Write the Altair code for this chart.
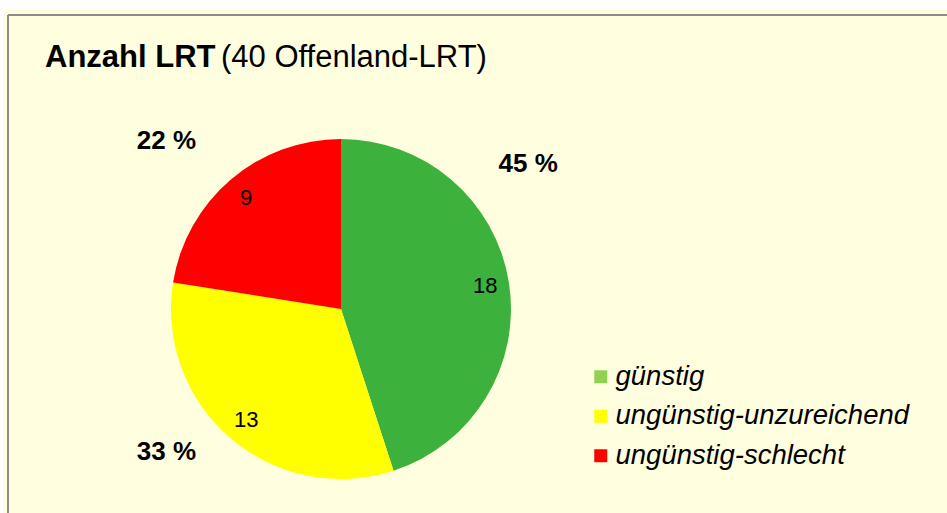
import altair as alt
import pandas as pd

# ---- data ----
categories = ["günstig", "ungünstig-unzureichend", "ungünstig-schlecht"]
counts = [18, 13, 9]
pct_labels = ["45 %", "33 %", "22 %"]
title_bold = "Anzahl LRT"
title_regular = "(40 Offenland-LRT)"

# ---- styles ----
pie_colors = ["#3CB13C", "#FFFF00", "#FF0000"]
legend_colors = ["#92D050", "#FFFF00", "#FF0000"]
FONT = "Liberation Sans"
W, H = 944, 503
CX, CY = 338, 299

df = pd.DataFrame({"cat": categories, "count": counts, "pct": pct_labels,
                   "idx": list(range(len(categories)))})

base = alt.Chart(df).encode(
    theta=alt.Theta("count:Q", stack=True),
    order=alt.Order("idx:Q", sort="ascending"),
)

pie = base.mark_arc(radius=170).encode(
    x=alt.value(CX), y=alt.value(CY),
    color=alt.Color("cat:N", scale=alt.Scale(domain=categories, range=pie_colors), legend=None),
)

legend_layer = base.mark_arc(radius=0).encode(
    x=alt.value(CX), y=alt.value(CY),
    color=alt.Color(
        "cat:N",
        scale=alt.Scale(domain=categories, range=legend_colors),
        legend=alt.Legend(
            title=None, orient="none", legendX=584, legendY=353,
            symbolType="square", symbolSize=169, symbolStrokeWidth=0,
            labelFont=FONT, labelFontSize=27.5, labelFontStyle="italic",
            labelColor="black", labelOffset=1, rowPadding=10.5, padding=0,
            labelLimit=400,
        ),
    ),
)


def stacked_text(radius, font_size, weight, field, cat=None, dx=0, dy=0):
    ch = (
        alt.Chart(df)
        .transform_stack(stack="count", groupby=[], as_=["s", "e"],
                         sort=[alt.SortField("idx", order="ascending")])
        .transform_calculate(mid="(datum.s + datum.e) / 2")
    )
    if cat is not None:
        ch = ch.transform_filter(alt.datum.cat == cat)
    return ch.mark_text(radius=radius, fontSize=font_size, fontWeight=weight, font=FONT,
                        color="black", dx=dx, dy=dy).encode(
        theta=alt.Theta("mid:Q", stack=None), x=alt.value(CX), y=alt.value(CY),
        text=field)


count_text = stacked_text(146, 22, "normal", "count:Q")
pct_g = stacked_text(235, 26, "bold", "pct:N", categories[0], -45, -108)
pct_y = stacked_text(235, 26, "bold", "pct:N", categories[1], -22, -36)
pct_r = stacked_text(235, 26, "bold", "pct:N", categories[2], -22, 11)

frame_df = pd.DataFrame({"k": [0]})
top_rule = alt.Chart(frame_df).mark_rule(color="#8C8C8C", strokeWidth=2).encode(
    x=alt.value(5), x2=alt.value(W), y=alt.value(5))
left_rule = alt.Chart(frame_df).mark_rule(color="#8C8C8C", strokeWidth=2).encode(
    x=alt.value(5), y=alt.value(5), y2=alt.value(H))

t1 = alt.Chart(pd.DataFrame({"t": [title_bold]})).mark_text(
    align="left", baseline="alphabetic", fontSize=31, fontWeight="bold", font=FONT, color="black"
).encode(x=alt.value(42), y=alt.value(57), text="t:N")
t2 = alt.Chart(pd.DataFrame({"t": [title_regular]})).mark_text(
    align="left", baseline="alphabetic", fontSize=31, font=FONT, color="black"
).encode(x=alt.value(218), y=alt.value(57), text="t:N")

chart = (
    alt.layer(top_rule, left_rule, t1, t2, pie, legend_layer, count_text, pct_g, pct_y, pct_r)
    .resolve_scale(color="independent")
    .properties(
        width=W, height=H,
        autosize=alt.AutoSizeParams(type="none"),
        padding={"left": 3, "top": 10, "right": 0, "bottom": 0},
        background="white",
    )
    .configure_view(fill="#FFFFE0", stroke=None)
)

chart.save("out.html", embed_options={"renderer": "svg", "actions": False})
